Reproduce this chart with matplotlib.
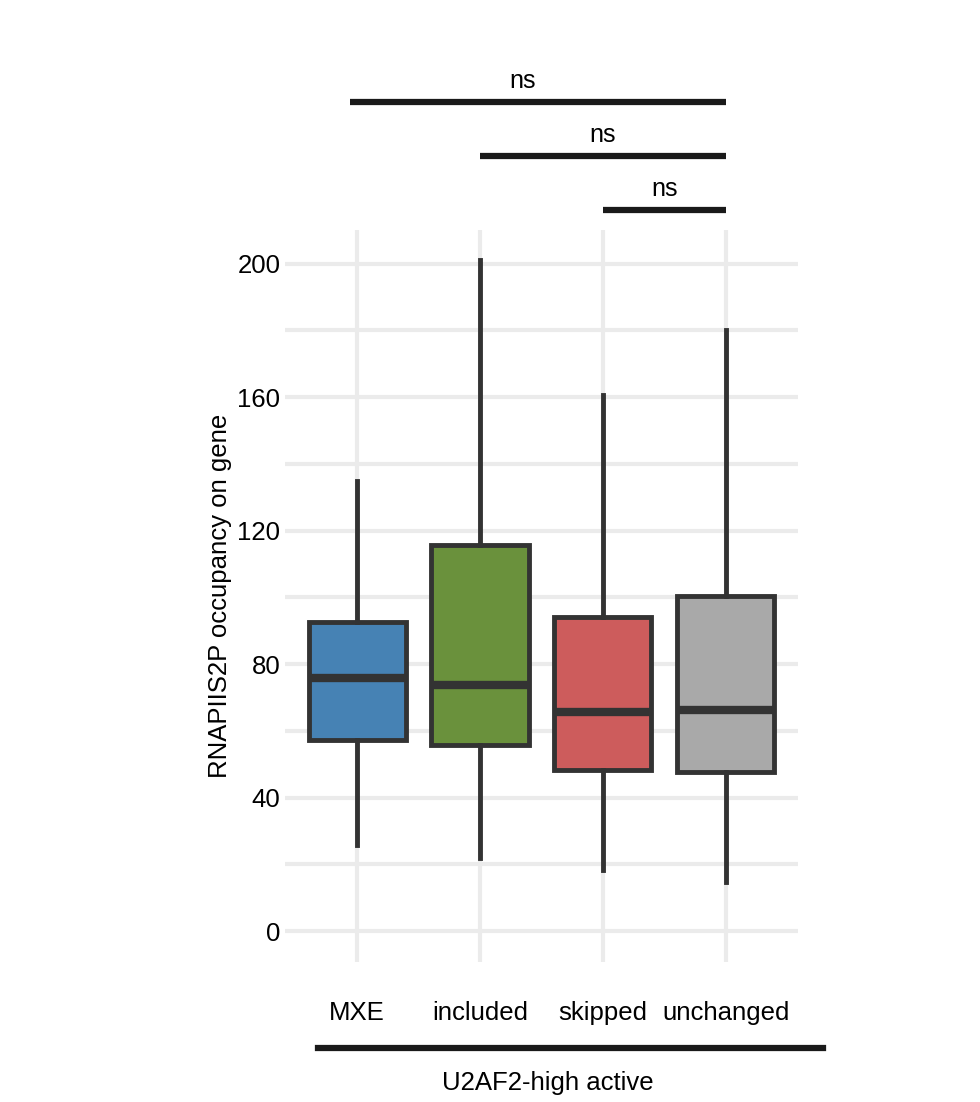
import matplotlib
matplotlib.use("Agg")
import matplotlib.pyplot as plt
from matplotlib.lines import Line2D

plt.rcParams["font.family"] = "Liberation Sans"

categories = ["MXE", "included", "skipped", "unchanged"]
whislo = [25.8, 21.9, 18.3, 14.7]
q1 = [57.3, 55.8, 48.3, 47.7]
med = [75.9, 73.8, 65.7, 66.3]
q3 = [92.7, 115.7, 94.2, 100.4]
whishi = [135, 201, 160.7, 180.2]
colors = ["#4682B4", "#6A913C", "#CD5C5C", "#A9A9A9"]
yticks = [0, 40, 80, 120, 160, 200]
comparisons = [(-0.06, 3, 248.6), (1, 3, 232.4), (2, 3, 216.2)]

fig = plt.figure(figsize=(9.8, 11.02), dpi=100)
ax = fig.add_axes([0.291, 0.127, 0.523, 0.664])
stats = [dict(med=m, q1=a, q3=b, whislo=l, whishi=h, fliers=[], label=c)
         for c, l, a, m, b, h in zip(categories, whislo, q1, med, q3, whishi)]
bp = ax.bxp(stats, positions=range(4), widths=0.79, patch_artist=True, showcaps=False,
            boxprops=dict(edgecolor="#333333", linewidth=3.5),
            whiskerprops=dict(color="#333333", linewidth=3.5),
            medianprops=dict(color="#333333", linewidth=6), zorder=3)
for p, c in zip(bp["boxes"], colors):
    p.set_facecolor(c)
ax.set_xlim(-0.585, 3.585)
ax.set_ylim(-9.3, 210)
ax.set_yticks(yticks)
ax.set_yticks(range(20, 200, 40), minor=True)
ax.grid(True, which="both", axis="y", color="#EBEBEB", linewidth=3)
ax.grid(True, which="major", axis="x", color="#EBEBEB", linewidth=3)
ax.set_axisbelow(True)
for s in ax.spines.values():
    s.set_visible(False)
ax.tick_params(which="both", length=0, labelsize=18.5)
ax.tick_params(axis="x", pad=28, labelsize=18.5)
ax.set_ylabel("RNAPIIS2P occupancy on gene", fontsize=18.5, labelpad=4)
for a, b, y in comparisons:
    ax.plot([a, b], [y, y], color="#1a1a1a", linewidth=4.5, clip_on=False, solid_capstyle="butt")
    ax.text((a + b) / 2 - (0.12 if a < 0.5 else 0), y + 2.5, "ns", ha="center", va="bottom", fontsize=18)
fig.add_artist(Line2D([318/980, 823/980], [1 - 1048/1102] * 2, color="#1a1a1a", linewidth=4.5))
fig.text(548/980, 1 - 1083/1102, "U2AF2-high active", ha="center", va="center", fontsize=18.5)
fig.savefig("out.png", dpi=100, facecolor="white")
